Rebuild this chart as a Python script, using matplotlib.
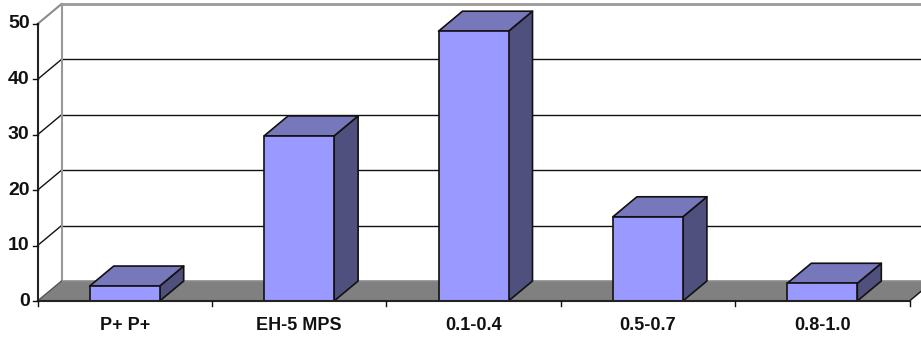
import matplotlib
matplotlib.use("Agg")
import matplotlib.pyplot as plt
from matplotlib.patches import Polygon

categories = ["P+ P+", "EH-5 MPS", "0.1-0.4", "0.5-0.7", "0.8-1.0"]
values = [2.7, 29.8, 48.7, 15.2, 3.2]
y_ticks = [0, 10, 20, 30, 40, 50]

W, H = 921, 338
X0, Y0 = 37.5, 301.0       # pixel position of the origin
PX_CAT, PX_VAL = 174.4, 5.54
DX, DY = 24 / PX_CAT, 20 / PX_VAL   # depth offset in data units
BAR_W = 70 / PX_CAT
FRONT, TOP, SIDE = "#9999FF", "#7777BC", "#50507F"
INK = "#111111"

plt.rcParams["font.family"] = ["Liberation Sans", "DejaVu Sans"]
fig = plt.figure(figsize=(W / 100, H / 100), dpi=100, facecolor="white")
ax = fig.add_axes([0, 0, 1, 1])
ax.set_xlim(-X0 / PX_CAT, (W - X0) / PX_CAT)
ax.set_ylim(-(H - Y0) / PX_VAL, Y0 / PX_VAL)
ax.axis("off")

n = len(categories)
ymax = y_ticks[-1]
right = (W + 5 - X0) / PX_CAT

# floor
ax.add_patch(Polygon([(0, 0), (n, 0), (n + DX, DY), (DX, DY)], fc="#808080", ec="none", zorder=1))
ax.plot([DX, n + DX], [DY, DY], color="#8c8c8c", lw=1.2, zorder=1.5)
ax.plot([n, n + DX], [0, DY], color=INK, lw=1, zorder=1.5)

# back wall and grid lines
for t in y_ticks[1:-1]:
    ax.plot([DX, right], [t + DY, t + DY], color=INK, lw=1, zorder=2)
    ax.plot([0, DX], [t, t + DY], color=INK, lw=1, zorder=2)
ax.plot([DX, right], [ymax + DY, ymax + DY], color="#999999", lw=2, zorder=2)
ax.plot([0, DX], [ymax, ymax + DY], color="#8c8c8c", lw=1.5, zorder=2)
ax.plot([DX, DX], [DY, ymax + DY], color="#999999", lw=1.5, zorder=2)
ax.plot([0, DX], [0, DY], color="#555555", lw=1, zorder=2)

# 3-D bars
for i, v in enumerate(values):
    l = i + 0.5 - BAR_W / 2
    r = l + BAR_W
    kw = dict(ec=INK, lw=1.2, joinstyle="round", zorder=3)
    ax.add_patch(Polygon([(r, 0), (r + DX, DY), (r + DX, v + DY), (r, v)], fc=SIDE, **kw))
    ax.add_patch(Polygon([(l, v), (r, v), (r + DX, v + DY), (l + DX, v + DY)], fc=TOP, **kw))
    ax.add_patch(Polygon([(l, 0), (r, 0), (r, v), (l, v)], fc=FRONT, **kw))
    ax.text(i + 0.5, -24 / PX_VAL, categories[i], ha="center", va="center",
            fontsize=13, fontweight="bold", color="#111111")

# axes
ax.plot([0, 0], [0, ymax], color="#222222", lw=1.5, zorder=4)
ax.plot([0, n], [0, 0], color="#222222", lw=1.5, zorder=4)
for t in y_ticks:
    ax.plot([-5 / PX_CAT, 0], [t, t], color=INK, lw=1, zorder=4)
    ax.text(-8 / PX_CAT, t, str(t), ha="right", va="center",
            fontsize=14, fontweight="bold", color="#111111")
for i in range(n + 1):
    ax.plot([i, i], [0, -5 / PX_VAL], color=INK, lw=1, zorder=4)

fig.savefig("out.png", dpi=100)
